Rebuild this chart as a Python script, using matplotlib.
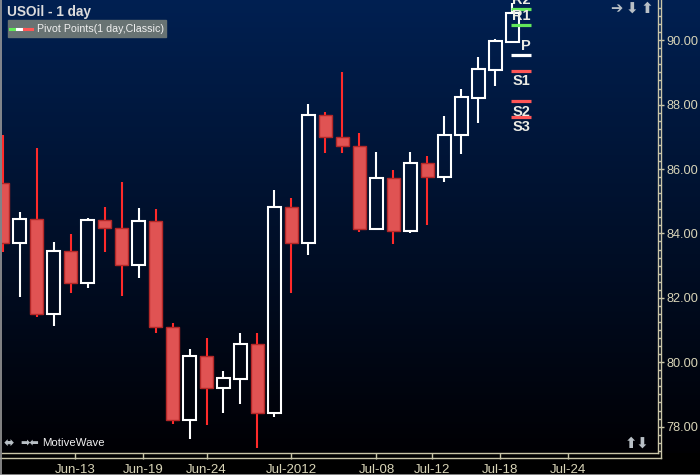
import numpy as np
import matplotlib
matplotlib.use('Agg')
import matplotlib.pyplot as plt
from matplotlib.lines import Line2D
from matplotlib.patches import Rectangle

# daily OHLC, USOil, Jun 7 - Jul 19 2012
opens  = [85.57, 83.70, 84.44, 81.49, 83.45, 82.45, 84.42, 84.16, 83.03, 84.38,
          81.09, 78.19, 80.19, 79.21, 79.49, 80.56, 78.42, 84.81, 83.70, 87.69,
          86.99, 86.71, 84.15, 85.71, 84.06, 86.18, 85.76, 87.07, 88.22, 89.09,
          89.96]
highs  = [87.06, 84.67, 86.66, 83.73, 83.98, 84.48, 84.82, 85.60, 84.78, 84.75,
          81.21, 80.41, 80.75, 79.73, 80.91, 80.91, 85.35, 85.10, 88.02, 87.76,
          89.02, 87.12, 86.53, 85.97, 86.53, 86.41, 87.65, 88.49, 89.48, 90.04,
          91.15]
lows   = [83.43, 82.04, 81.40, 81.14, 82.16, 82.32, 83.43, 82.07, 82.63, 80.90,
          78.09, 77.60, 78.05, 78.43, 78.71, 77.32, 78.31, 82.14, 83.34, 86.51,
          86.51, 84.05, 84.12, 83.68, 84.02, 84.27, 85.61, 86.48, 87.44, 88.59,
          89.91]
closes = [83.70, 84.44, 81.49, 83.45, 82.45, 84.42, 84.16, 83.03, 84.38, 81.09,
          78.19, 80.19, 79.21, 79.50, 80.56, 78.42, 84.81, 83.70, 87.69, 86.98,
          86.70, 84.15, 85.71, 84.06, 86.18, 85.76, 87.07, 88.23, 89.10, 89.97,
          90.84]

# pivot levels (1 day, classic)
pivot_names  = ['R2', 'R1', 'P', 'S1', 'S2', 'S3']
pivot_values = [90.97, 90.48, 89.53, 89.05, 88.11, 87.62]

# date axis, in bar units
date_ticks  = [4.25, 8.25, 12, 17, 22, 25.25, 29.25, 33.25]
date_labels = ['Jun-13', 'Jun-19', 'Jun-24', 'Jul-2012', 'Jul-08', 'Jul-12', 'Jul-18', 'Jul-24']

W, H = 700, 475
fig = plt.figure(figsize=(W/100, H/100), dpi=100, facecolor='black')

# background gradient behind plot and price axis
bg = fig.add_axes([0, 22/H, 1, 453/H])
grad = np.linspace(0, 1, 256)[:, None]
top = np.array([0.0, 0.125, 0.32])
bot = np.array([0.0, 0.0, 0.015])
img = (top[None, None, :] * (1 - grad[:, :, None]) + bot[None, None, :] * grad[:, :, None])
bg.imshow(img, aspect='auto', extent=[0, 1, 0, 1])
bg.axis('off')

ax = fig.add_axes([2/W, 22/H, 656/W, 453/H])
ax.patch.set_alpha(0)

red_fill = '#e05353'
red_edge = '#b42828'
red_wick = '#ff2a2a'
axis_col = '#c9c5a8'
text_col = '#d9d5b8'

x = np.arange(len(opens))
for i in x:
    o, h, l, c = opens[i], highs[i], lows[i], closes[i]
    up = c >= o
    btop, bbot = max(o, c), min(o, c)
    wc = 'white' if up else red_wick
    ax.vlines(i, btop, h, color=wc, lw=1.5, zorder=2)
    ax.vlines(i, l, bbot, color=wc, lw=1.5, zorder=2)
    if up:
        ax.bar(i, btop - bbot, bottom=bbot, width=0.72, facecolor='none',
               edgecolor='white', lw=1.5, zorder=3)
    else:
        ax.bar(i, btop - bbot, bottom=bbot, width=0.74, facecolor=red_fill,
               edgecolor=red_edge, lw=1, zorder=3)

# pivot lines
piv_colors = ['#62e85a', '#62e85a', 'white', '#ff5656', '#ff5656', '#ff5656']
x0, x1 = 29.91, 31.09
for name, val, col in zip(pivot_names, pivot_values, piv_colors):
    ax.hlines(val, x0, x1, color=col, lw=2.3, zorder=4)
    if name.startswith('S'):
        off, va = -2.5, 'top'
    else:
        off, va = 1.5, 'bottom'
    t = ax.annotate(name, (31.05, val), xytext=(0, off), textcoords='offset points',
                    ha='right', va=va, fontsize=10.5, fontweight='bold',
                    family='Liberation Sans', color='#ecece4', zorder=5)
    t.set_clip_on(True)

ax.set_xlim(-0.03, 38.56)
ax.set_ylim(77.18, 91.25)

ax.yaxis.tick_right()
ax.set_yticks(np.arange(78, 91, 2))
ax.set_yticks(np.arange(77.25, 91.25, 0.25), minor=True)
ax.set_yticklabels(['%.2f' % v for v in np.arange(78, 91, 2)])
ax.set_xticks(date_ticks)
ax.set_xticklabels(date_labels)
ax.tick_params(axis='y', which='major', length=4, width=1, color=axis_col, pad=2,
               labelcolor=text_col, labelsize=9.2)
ax.tick_params(axis='y', which='minor', length=2.5, width=1, color=axis_col)
ax.tick_params(axis='x', length=4, width=1, color=axis_col, pad=4,
               labelcolor=text_col, labelsize=9.5)
for lab in ax.get_xticklabels() + ax.get_yticklabels():
    lab.set_family('Liberation Sans')
for side in ['left', 'top']:
    ax.spines[side].set_visible(False)
for side in ['right', 'bottom']:
    ax.spines[side].set_color(axis_col)
    ax.spines[side].set_linewidth(1)

# outer frame lines of the axis strips
fig.add_artist(Line2D([0, 661/W], [1 - 458/H, 1 - 458/H], color=axis_col, lw=1))
fig.add_artist(Line2D([661/W, 661/W], [1 - 458/H, 1], color=axis_col, lw=1))
fig.add_artist(Line2D([0.5/W, 0.5/W], [0, 1], color='#9a9a9a', lw=1.2))
fig.add_artist(Line2D([0, 1], [0.5/H, 0.5/H], color='#9a9a9a', lw=1.2))

# title and legend
fig.text(7/W, 1 - 12/H, 'USOil - 1 day', fontsize=9.8, fontweight='bold',
         family='Liberation Sans', color='#dcdcdc', va='center')
fig.add_artist(Rectangle((8/W, 1 - 37/H), 158/W, 17/H, color='#687373',
                         transform=fig.transFigure))
fig.add_artist(Line2D([10/W, 17/W], [1 - 29/H] * 2, color='#62e85a', lw=2.2))
fig.add_artist(Line2D([17/W, 24/W], [1 - 29/H] * 2, color='white', lw=2.2))
fig.add_artist(Line2D([24/W, 32/W], [1 - 29/H] * 2, color='#ff5656', lw=2.2))
fig.text(37/W, 1 - 28.5/H, 'Pivot Points(1 day,Classic)', fontsize=7.7,
         family='Liberation Sans', color='#f0f0f0', va='center')

# toolbar glyphs
icon_col = '#b9c0c6'
fig.text(611/W, 1 - 8/H, '\u2794\u2009\u2b07\u2009\u2b06', fontsize=10.5, fontweight='bold',
         family=['DejaVu Sans'], color=icon_col, va='center')
fig.text(4/W, 1 - 443/H, '\u2b0c', fontsize=9, fontweight='bold',
         family=['DejaVu Sans'], color=icon_col, va='center')
fig.text(20/W, 1 - 443/H, '\u27a1\u2b05', fontsize=8, fontweight='bold',
         family=['DejaVu Sans'], color=icon_col, va='center')
fig.text(42/W, 1 - 443/H, 'MotiveWave', fontsize=8.2, family='Liberation Sans',
         color='#f0f0f0', va='center')
fig.text(625/W, 1 - 443/H, '\u2b06\u2b07', fontsize=10.5, fontweight='bold',
         family=['DejaVu Sans'], color=icon_col, va='center')

fig.savefig('out.png', dpi=100, facecolor='black')
